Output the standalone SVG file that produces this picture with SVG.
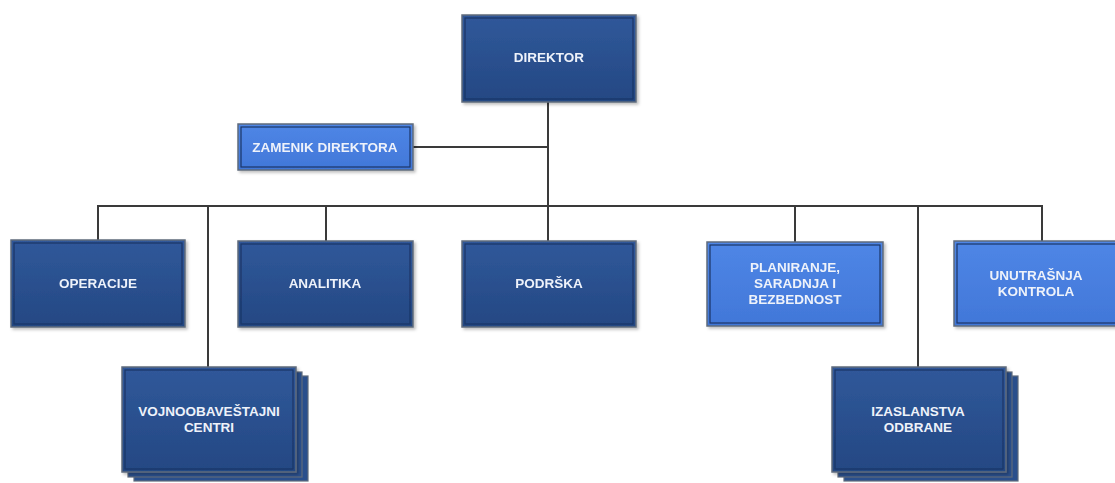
<svg xmlns="http://www.w3.org/2000/svg" width="1115" height="483" viewBox="0 0 1115 483">
<defs>
<linearGradient id="dk" x1="0" y1="0" x2="0" y2="1">
<stop offset="0" stop-color="#30589a"/>
<stop offset="1" stop-color="#244883"/>
</linearGradient>
<linearGradient id="lt" x1="0" y1="0" x2="0" y2="1">
<stop offset="0" stop-color="#4f86e6"/>
<stop offset="1" stop-color="#4177d8"/>
</linearGradient>
<filter id="sh" x="-10%" y="-10%" width="130%" height="130%">
<feDropShadow dx="2" dy="2" stdDeviation="1.5" flood-color="#000" flood-opacity="0.25"/>
</filter>
</defs>
<style>
.o{stroke:#5f6b7c;stroke-width:1.5}
.i{fill:none;stroke:#1c3566;stroke-width:1.2}
.d{fill:url(#dk)}
.l{fill:url(#lt)}
.b{fill:#2a4f8c;stroke:#5f6b7c;stroke-width:1.2}
.t{font-family:"Liberation Sans",Arial,sans-serif;font-weight:bold;font-size:13.5px;fill:#eef2fa;text-anchor:middle}
.c{fill:none;stroke:#3a3a3a;stroke-width:2}
</style>
<rect width="1115" height="483" fill="#ffffff"/>
<g id="connectors">
<line class="c" x1="548" y1="102" x2="548" y2="206"/>
<line class="c" x1="413" y1="147" x2="548" y2="147"/>
<line class="c" x1="98" y1="206" x2="1042" y2="206"/>
<line class="c" x1="98" y1="205" x2="98" y2="241"/>
<line class="c" x1="208" y1="205" x2="208" y2="367"/>
<line class="c" x1="326" y1="205" x2="326" y2="241"/>
<line class="c" x1="548" y1="205" x2="548" y2="241"/>
<line class="c" x1="795" y1="205" x2="795" y2="242"/>
<line class="c" x1="918" y1="205" x2="918" y2="367"/>
<line class="c" x1="1042" y1="205" x2="1042" y2="241"/>
</g>
<g id="direktor" filter="url(#sh)">
<rect class="o d" x="462" y="15" width="174" height="87"/>
<rect class="i" x="465" y="18" width="168" height="81"/>
<text class="t" x="549" y="62">DIREKTOR</text>
</g>
<g id="zamenik" filter="url(#sh)">
<rect class="o l" x="238" y="124" width="175" height="46"/>
<rect class="i" x="241" y="127" width="169" height="40"/>
<text class="t" x="325" y="152">ZAMENIK DIREKTORA</text>
</g>
<g id="operacije" filter="url(#sh)">
<rect class="o d" x="11" y="240" width="174" height="87"/>
<rect class="i" x="14" y="243" width="168" height="81"/>
<text class="t" x="98" y="288">OPERACIJE</text>
</g>
<g id="analitika" filter="url(#sh)">
<rect class="o d" x="238" y="241" width="175" height="86"/>
<rect class="i" x="241" y="244" width="169" height="80"/>
<text class="t" x="325" y="288">ANALITIKA</text>
</g>
<g id="podrska" filter="url(#sh)">
<rect class="o d" x="462" y="241" width="174" height="86"/>
<rect class="i" x="465" y="244" width="168" height="80"/>
<text class="t" x="549" y="288">PODRŠKA</text>
</g>
<g id="planiranje" filter="url(#sh)">
<rect class="o l" x="707" y="242" width="176" height="84"/>
<rect class="i" x="710" y="245" width="170" height="78"/>
<text class="t" x="795" y="272">PLANIRANJE,</text>
<text class="t" x="795" y="288">SARADNJA I</text>
<text class="t" x="795" y="304">BEZBEDNOST</text>
</g>
<g id="unutrasnja" filter="url(#sh)">
<rect class="o l" x="954" y="241" width="165" height="85"/>
<rect class="i" x="957" y="244" width="165" height="79"/>
<text class="t" x="1036" y="280">UNUTRAŠNJA</text>
<text class="t" x="1036" y="296">KONTROLA</text>
</g>
<g id="vojnoobavestajni">
<rect class="b" x="134" y="376" width="174" height="105"/>
<rect class="b" x="128" y="372" width="174" height="105"/>
<g filter="url(#sh)">
<rect class="o d" x="122" y="367" width="174" height="105"/>
<rect class="i" x="125" y="370" width="168" height="99"/>
</g>
<text class="t" x="209" y="416">VOJNOOBAVEŠTAJNI</text>
<text class="t" x="209" y="432">CENTRI</text>
</g>
<g id="izaslanstva">
<rect class="b" x="844" y="376" width="174" height="105"/>
<rect class="b" x="838" y="372" width="174" height="105"/>
<g filter="url(#sh)">
<rect class="o d" x="832" y="367" width="174" height="105"/>
<rect class="i" x="835" y="370" width="168" height="99"/>
</g>
<text class="t" x="918" y="416">IZASLANSTVA</text>
<text class="t" x="918" y="432">ODBRANE</text>
</g>
</svg>
